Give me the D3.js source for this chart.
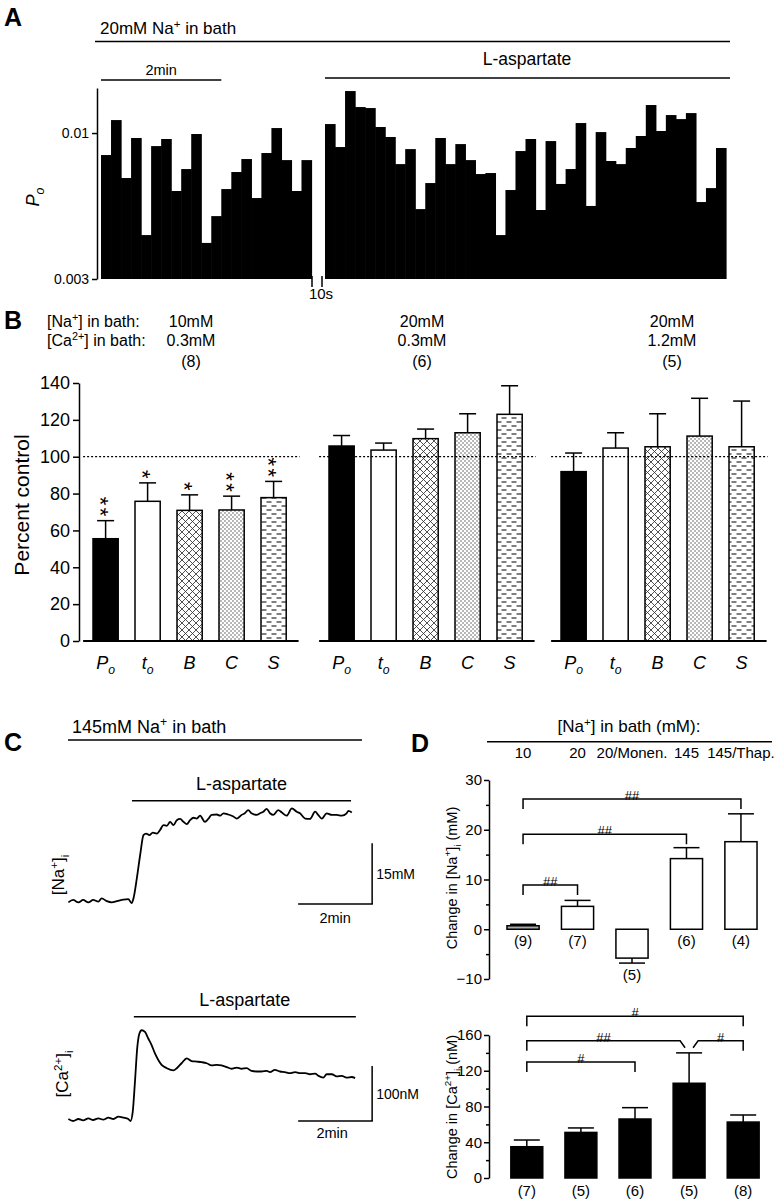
<!DOCTYPE html>
<html><head><meta charset="utf-8">
<script src="https://cdn.jsdelivr.net/npm/d3@7"></script>
<style>body{margin:0;background:#fff}svg{display:block}text{font-family:"Liberation Sans",Arial,Helvetica,sans-serif;fill:#000}</style>
</head><body><svg id="c" width="781" height="1199"></svg>
<script>
// ---------------- DATA ----------------
// Panel A: open probability per 10-s bin
const poControl = [0.00834,0.01113,0.00690,0.00960,0.00431,0.00898,0.00952,0.00620,0.00743,0.00992,0.00404,0.00504,0.00630,0.00725,0.00807,0.00585,0.00848,0.01042,0.00800,0.00620,0.00800];
const poAspartate = [0.01077,0.00891,0.01414,0.01239,0.01229,0.01051,0.00968,0.00774,0.00876,0.00534,0.00662,0.00960,0.00774,0.00913,0.00800,0.00713,0.00719,0.00431,0.00625,0.00862,0.00952,0.00530,0.00936,0.00657,0.00743,0.01086,0.00548,0.01008,0.00794,0.00774,0.00884,0.00976,0.01260,0.01017,0.01160,0.01122,0.01179,0.00566,0.00635,0.00884];
const poTicks = [0.003, 0.01];
const poTickLabels = ["0.003", "0.01"];
const binsPer2min = 12;

// Panel B
const bParams = ["Po", "to", "B", "C", "S"];
const bNaLabels = ["10mM", "20mM", "20mM"];
const bCaLabels = ["0.3mM", "0.3mM", "1.2mM"];
const bNLabels = ["(8)", "(6)", "(5)"];
const bMeans = [[55.5, 75.8, 70.9, 71.1, 77.8], [105.8, 103.6, 109.8, 113.0, 123.0], [91.9, 104.7, 105.4, 111.2, 105.4]];
const bErrTop = [[65.3, 85.8, 79.3, 78.6, 86.6], [111.5, 107.4, 115.0, 123.3, 138.5], [102.0, 113.0, 123.3, 131.7, 130.2]];
const bStars = [["**", "*", "*", "**", "**"], ["", "", "", "", ""], ["", "", "", "", ""]];
const bTicks = [0, 20, 40, 60, 80, 100, 120, 140];
const bReference = 100;

// Panel C: traces (time in min, [Na+]i change in mM, [Ca2+]i change in nM)
const naTime = [0.01,0.14,0.28,0.41,0.55,0.68,0.82,0.91,1.05,1.18,1.32,1.50,1.63,1.72,1.77,1.86,1.95,2.04,2.11,2.20,2.29,2.40,2.49,2.58,2.67,2.76,2.85,2.94,3.03,3.12,3.21,3.30,3.39,3.48,3.57,3.70,3.79,3.88,4.02,4.11,4.20,4.33,4.47,4.56,4.69,4.78,4.87,4.96,5.10,5.19,5.28,5.37,5.46,5.55,5.68,5.78,5.91,6.05,6.18,6.27,6.41,6.54,6.68,6.76,6.86,6.99,7.13,7.26,7.40,7.53,7.58,7.67];
const naValues = [0.4,1.0,0.4,1.0,0.4,1.0,0.6,1.4,0.7,0.4,0.7,1.1,1.2,0.2,1.4,6.3,12.1,17.0,17.4,17.0,17.6,17.4,18.3,19.5,19.3,20.3,19.5,20.7,21.0,20.3,19.7,20.7,21.3,21.1,21.8,20.3,21.0,22.0,22.1,21.8,22.4,22.1,21.6,21.1,22.0,22.4,23.2,22.4,22.0,22.4,22.8,23.5,22.4,22.0,23.2,22.6,21.8,23.6,22.8,22.4,21.1,21.0,22.8,22.0,21.1,22.4,22.0,22.0,21.8,22.4,23.0,22.6];
const caTime = [0.01,0.14,0.28,0.41,0.55,0.68,0.82,0.95,1.09,1.23,1.36,1.50,1.63,1.69,1.75,1.81,1.87,1.93,1.99,2.08,2.17,2.26,2.35,2.44,2.53,2.67,2.85,2.94,3.07,3.21,3.34,3.48,3.61,3.75,3.88,4.02,4.15,4.29,4.42,4.56,4.69,4.83,4.96,5.10,5.23,5.37,5.46,5.59,5.73,5.86,6.00,6.14,6.27,6.41,6.54,6.68,6.77,6.90,6.99,7.13,7.26,7.40,7.53,7.67,7.76];
const caValues = [3.6,0,3.6,1.2,4.8,1.8,4.8,2.4,6.1,3.6,7.9,6.1,3.6,0,17,71.5,132,159,165,162,150,138,123,111,102,96,92,96,105,114,109,108,107,105,101,102,101,98,95,97,95,96,91,90,90,91,89,93,90,89,87,89,87,87,85,86,82,79,85,85,81,82,79,80,78];
const naAspWindow = [1.73, 7.65];
const caAspWindow = [1.78, 7.78];
const cScaleBarStart = 6.22; // min
const naScaleBar = 15;  // mM
const caScaleBar = 100; // nM

// Panel D
const dCategories = ["10", "20", "20/Monen.", "145", "145/Thap."];
const dNaMeans = [0.7, 4.6, -5.8, 14.2, 17.6];
const dNaErr = [1.0, 5.8, -6.8, 16.4, 23.2];
const dNaN = ["(9)", "(7)", "(5)", "(6)", "(4)"];
const dNaTicks = [-10, 0, 10, 20, 30];
const dNaMinor = [-5, 5, 15, 25];
const dCaMeans = [35, 51, 66, 106, 62.6];
const dCaErr = [42.5, 56, 78.7, 140, 70.5];
const dCaN = ["(7)", "(5)", "(6)", "(5)", "(8)"];
const dCaTicks = [0, 40, 80, 120, 160];
const dCaMinor = [20, 60, 100, 140];
const dNaBrackets = [
  {from: 0, to: 4, level: 26.2, label: "##"},
  {from: 0, to: 3, level: 19.1, label: "##"},
  {from: 0, to: 1, level: 8.9, label: "##"}
];
const dCaBrackets = [
  {from: 0, to: 4, level: 181, label: "#", diag: false},
  {from: 0, to: 3, level: 153.6, label: "##", diag: true},
  {from: 4, to: 3, level: 153.6, label: "#", diag: true},
  {from: 0, to: 2, level: 129.8, label: "#", diag: false}
];

// ---------------- HELPERS ----------------
const svg = d3.select("#c");
const FONT = '"Liberation Sans", Arial, Helvetica, sans-serif';

function rich(t, parts) {
  const fs = +t.attr("font-size");
  let cur = 0;
  parts.forEach(([s, m]) => {
    m = m || "";
    const target = m.includes("sup") ? -0.38 * fs : m.includes("sub") ? 0.28 * fs : 0;
    const ts = t.append("tspan").text(s);
    if (target - cur !== 0) ts.attr("dy", target - cur);
    cur = target;
    if (m.includes("sup") || m.includes("sub")) ts.attr("font-size", fs * 0.68);
    if (m.includes("it")) ts.attr("font-style", "italic");
  });
  return t;
}
function label(x, y, parts, size, opts = {}) {
  const t = svg.append("text").attr("x", x).attr("y", y).attr("font-size", size)
    .attr("text-anchor", opts.anchor || "start");
  if (opts.weight) t.attr("font-weight", opts.weight);
  if (opts.rotate) t.attr("transform", `rotate(${opts.rotate},${x},${y})`);
  return rich(t, typeof parts === "string" ? [[parts, ""]] : parts);
}
function hline(x1, x2, y, w = 1.5, dash = null) {
  const l = svg.append("line").attr("x1", x1).attr("x2", x2).attr("y1", y).attr("y2", y)
    .attr("stroke", "#000").attr("stroke-width", w);
  if (dash) l.attr("stroke-dasharray", dash);
  return l;
}
function vline(x, y1, y2, w = 1.5) {
  return svg.append("line").attr("x1", x).attr("x2", x).attr("y1", y1).attr("y2", y2)
    .attr("stroke", "#000").attr("stroke-width", w);
}
function styleAxis(g, size) {
  g.attr("font-family", FONT).attr("font-size", size);
  g.selectAll("path.domain, .tick line").attr("stroke", "#000").attr("stroke-width", 1.5);
  g.selectAll("text").attr("fill", "#000");
}

// patterns
const defs = svg.append("defs");
const hatch = defs.append("pattern").attr("id", "hatch").attr("patternUnits", "userSpaceOnUse").attr("width", 7).attr("height", 7);
hatch.append("rect").attr("width", 7).attr("height", 7).attr("fill", "#fff");
hatch.append("path").attr("d", "M0,0L7,7M7,0L0,7M-1,6L1,8M6,-1L8,1M-1,1L1,-1M6,8L8,6").attr("stroke", "#333").attr("stroke-width", 0.85);
const dots = defs.append("pattern").attr("id", "dots").attr("patternUnits", "userSpaceOnUse").attr("width", 4).attr("height", 4);
dots.append("rect").attr("width", 4).attr("height", 4).attr("fill", "#fff");
dots.append("circle").attr("cx", 1).attr("cy", 1).attr("r", 0.65).attr("fill", "#333");
dots.append("circle").attr("cx", 3).attr("cy", 3).attr("r", 0.65).attr("fill", "#333");
const dash = defs.append("pattern").attr("id", "dash").attr("patternUnits", "userSpaceOnUse").attr("width", 10).attr("height", 8);
dash.append("rect").attr("width", 10).attr("height", 8).attr("fill", "#fff");
dash.append("path").attr("d", "M1.5,2H6.5M6.5,6H11.5M-3.5,6H1.5").attr("stroke", "#000").attr("stroke-width", 1.2);
const bFills = {Po: "#000", to: "#fff", B: "url(#hatch)", C: "url(#dots)", S: "url(#dash)"};
const bXLabels = {Po: [["P", "it"], ["o", "itsub"]], to: [["t", "it"], ["o", "itsub"]], B: [["B", "it"]], C: [["C", "it"]], S: [["S", "it"]]};

// ---------------- PANEL A ----------------
label(4, 26, "A", 25, {weight: "bold"});
label(100, 34, [["20mM Na", ""], ["+", "sup"], [" in bath", ""]], 17);
hline(95, 730, 41.5);
const aY = d3.scaleLog().domain([0.003, 0.0145]).range([279, 88]);
const aX1 = d3.scaleBand().domain(d3.range(poControl.length)).range([101, 311.5]).padding(0);
const aX2 = d3.scaleBand().domain(d3.range(poAspartate.length)).range([325, 726]).padding(0);
[[poControl, aX1], [poAspartate, aX2]].forEach(([data, sx]) => {
  svg.append("g").selectAll("rect").data(data).join("rect")
    .attr("x", (d, i) => sx(i)).attr("width", sx.bandwidth() + 0.6)
    .attr("y", d => aY(d)).attr("height", d => aY(0.003) - aY(d)).attr("fill", "#000");
});
const aAxis = svg.append("g").attr("transform", "translate(97,0)")
  .call(d3.axisLeft(aY).tickValues(poTicks).tickFormat((d, i) => poTickLabels[i]).tickSize(5).tickSizeOuter(0).tickPadding(3));
styleAxis(aAxis, 14);
hline(aX1(0), aX1(binsPer2min), 80);
label((aX1(0) + aX1(binsPer2min)) / 2, 75, "2min", 14.5, {anchor: "middle"});
hline(aX2(0), 730, 78);
label(527, 65, "L-aspartate", 17.5, {anchor: "middle"});
vline(aX1.range()[1] + 0.5, 276, 287);
vline(aX2.range()[0] - 3, 276, 287);
label(321, 299, "10s", 15, {anchor: "middle"});
label(39, 197, [["P", "it"], ["o", "itsub"]], 18, {anchor: "middle", rotate: -90});

// ---------------- PANEL B ----------------
label(4, 329, "B", 25, {weight: "bold"});
label(47, 327, [["[Na", ""], ["+", "sup"], ["] in bath:", ""]], 16);
label(47, 346, [["[Ca", ""], ["2+", "sup"], ["] in bath:", ""]], 16);
const bHdrX = [191, 422, 672];
bHdrX.forEach((x, g) => {
  label(x, 327, bNaLabels[g], 16, {anchor: "middle"});
  label(x, 346, bCaLabels[g], 16, {anchor: "middle"});
  label(x, 367, bNLabels[g], 16, {anchor: "middle"});
});
const bY = d3.scaleLinear().domain([0, 140]).range([641, 383]);
const bAxis = svg.append("g").attr("transform", "translate(79,0)")
  .call(d3.axisLeft(bY).tickValues(bTicks).tickSize(6).tickSizeOuter(0).tickPadding(3));
styleAxis(bAxis, 18);
label(29, 505, "Percent control", 21, {anchor: "middle", rotate: -90});
const bGroupX0 = [84.6, 320.6, 552.6];
const STAR = 22;
bGroupX0.forEach((x0, g) => {
  const sx = d3.scaleBand().domain(bParams).range([x0, x0 + 210]).paddingInner(0.4).paddingOuter(0.2);
  const gg = svg.append("g");
  hline(x0 - 1.5, x0 + 215, bY(bReference), 1.3, "2,2");
  gg.selectAll("rect").data(bParams).join("rect")
    .attr("x", p => sx(p)).attr("width", sx.bandwidth())
    .attr("y", (p, i) => bY(bMeans[g][i])).attr("height", (p, i) => bY(0) - bY(bMeans[g][i]))
    .attr("fill", p => bFills[p]).attr("stroke", "#000").attr("stroke-width", 1.5);
  bParams.forEach((p, i) => {
    const cx = sx(p) + sx.bandwidth() / 2;
    const ey = bY(bErrTop[g][i]);
    vline(cx, bY(bMeans[g][i]), ey);
    hline(cx - 8.5, cx + 8.5, ey);
    const s = bStars[g][i];
    if (s.length) {
      // stars stacked vertically: text runs downward (rotated 90deg), ending just above the cap
      const ax = cx - 0.575 * STAR, ay = ey - 2;
      svg.append("text").attr("x", ax).attr("y", ay).attr("font-size", STAR)
        .attr("text-anchor", "end").attr("letter-spacing", 2.4)
        .attr("transform", `rotate(90,${ax},${ay})`).text(s);
    }
    label(cx, 669, bXLabels[p], 18, {anchor: "middle"});
  });
  hline(x0 - 1.5, x0 + 214, bY(0), 1.8);
});

// ---------------- PANEL C ----------------
label(4, 751, "C", 25, {weight: "bold"});
label(72, 733, [["145mM Na", ""], ["+", "sup"], [" in bath", ""]], 18);
hline(68, 362, 740);
const cX = d3.scaleLinear().domain([0, 2]).range([68, 142]);
const naY = d3.scaleLinear().domain([0, 15]).range([904, 843.25]);
const caY = d3.scaleLinear().domain([0, 100]).range([1121, 1066]);
const trace = (ys) => d3.line().x(d => cX(d[0])).y(d => ys(d[1])).curve(d3.curveMonotoneX);
svg.append("path").datum(naTime.map((t, i) => [t, naValues[i]])).attr("d", trace(naY))
  .attr("fill", "none").attr("stroke", "#000").attr("stroke-width", 1.8).attr("stroke-linejoin", "round");
svg.append("path").datum(caTime.map((t, i) => [t, caValues[i]])).attr("d", trace(caY))
  .attr("fill", "none").attr("stroke", "#000").attr("stroke-width", 1.8).attr("stroke-linejoin", "round");
hline(cX(naAspWindow[0]), cX(naAspWindow[1]), 800.7);
label((cX(naAspWindow[0]) + cX(naAspWindow[1])) / 2, 790, "L-aspartate", 18, {anchor: "middle"});
hline(cX(caAspWindow[0]), cX(caAspWindow[1]), 1016.7);
label((cX(caAspWindow[0]) + cX(caAspWindow[1])) / 2, 1006, "L-aspartate", 18, {anchor: "middle"});
const sbX1 = cX(cScaleBarStart), sbX2 = cX(cScaleBarStart + 2);
hline(sbX1, sbX2 + 0.75, naY(0));
vline(sbX2, naY(0), naY(naScaleBar));
label(sbX2 + 4, naY(naScaleBar / 2) + 5, "15mM", 14);
label((sbX1 + sbX2) / 2, naY(0) + 19, "2min", 14.5, {anchor: "middle"});
hline(sbX1, sbX2 + 0.75, caY(0));
vline(sbX2, caY(0), caY(caScaleBar));
label(sbX2 + 4, caY(caScaleBar / 2) + 5, "100nM", 14);
label((sbX1 + sbX2) / 2 - 3, caY(0) + 17, "2min", 14.5, {anchor: "middle"});
label(64, 875, [["[Na", ""], ["+", "sup"], ["]", ""], ["i", "sub"]], 17, {anchor: "middle", rotate: -90});
label(68, 1074, [["[Ca", ""], ["2+", "sup"], ["]", ""], ["i", "sub"]], 17, {anchor: "middle", rotate: -90});

// ---------------- PANEL D ----------------
label(411, 752, "D", 25, {weight: "bold"});
label(629, 732, [["[Na", ""], ["+", "sup"], ["] in bath (mM):", ""]], 17, {anchor: "middle"});
hline(487, 772, 741.7);
const dX = d3.scaleBand().domain(dCategories).range([489, 775]).paddingInner(0.41).paddingOuter(0.33);
const dX2 = d3.scaleBand().domain(dCategories).range([493, 777]).paddingInner(0.41).paddingOuter(0.33);
dCategories.forEach(c => label(dX(c) + dX.bandwidth() / 2, 758, c, 15, {anchor: "middle"}));

function dChart(sx, sy, means, errs, ns, ticks, minor, fills, brackets, nOffset) {
  const ax = svg.append("g").attr("transform", "translate(489,0)")
    .call(d3.axisLeft(sy).tickValues(ticks).tickSize(5).tickSizeOuter(0).tickPadding(2));
  styleAxis(ax, 15);
  const mi = svg.append("g").attr("transform", "translate(489,0)")
    .call(d3.axisLeft(sy).tickValues(minor).tickSize(3).tickFormat(""));
  mi.select("path.domain").remove();
  mi.selectAll(".tick line").attr("stroke", "#000").attr("stroke-width", 1.5);
  const bw = sx.bandwidth();
  svg.append("g").selectAll("rect").data(dCategories).join("rect")
    .attr("x", c => sx(c)).attr("width", bw)
    .attr("y", (c, i) => sy(Math.max(0, means[i])))
    .attr("height", (c, i) => Math.abs(sy(means[i]) - sy(0)))
    .attr("fill", (c, i) => fills[i]).attr("stroke", "#000").attr("stroke-width", 1.5);
  dCategories.forEach((c, i) => {
    const cx = sx(c) + bw / 2;
    vline(cx, sy(means[i]), sy(errs[i]));
    hline(cx - 13, cx + 13, sy(errs[i]));
    label(cx, sy(Math.min(0, errs[i])) + nOffset, ns[i], 15, {anchor: "middle"});
  });
  brackets.forEach(b => {
    const c1 = sx(dCategories[b.from]) + bw / 2, c2 = sx(dCategories[b.to]) + bw / 2;
    const y = sy(b.level);
    let d, xEnd;
    if (b.diag) {
      const s = Math.sign(c1 - c2);
      xEnd = c2 + s * 9;
      d = `M${c1},${y + 10}V${y}H${xEnd}L${c2 + s * 4},${y + 7}`;
    } else {
      xEnd = c2;
      d = `M${c1},${y + 10}V${y}H${c2}V${y + 10}`;
    }
    svg.append("path").attr("d", d).attr("fill", "none").attr("stroke", "#000").attr("stroke-width", 1.5);
    label((c1 + xEnd) / 2, y + 1, b.label, 13, {anchor: "middle"});
  });
}
const dNaY = d3.scaleLinear().domain([-10, 30]).range([979, 780]);
const dCaY = d3.scaleLinear().domain([0, 160]).range([1178, 1035]);
dChart(dX, dNaY, dNaMeans, dNaErr, dNaN, dNaTicks, dNaMinor, ["#aaa", "#fff", "#fff", "#fff", "#fff"], dNaBrackets, 17);
dChart(dX2, dCaY, dCaMeans, dCaErr, dCaN, dCaTicks, dCaMinor, ["#000", "#000", "#000", "#000", "#000"], dCaBrackets, 18);
label(457, 878, [["Change in [Na", ""], ["+", "sup"], ["]", ""], ["i", "sub"], [" (mM)", ""]], 14.5, {anchor: "middle", rotate: -90});
label(457, 1107, [["Change in [Ca", ""], ["2+", "sup"], ["]", ""], ["i", "sub"], [" (nM)", ""]], 14.5, {anchor: "middle", rotate: -90});
</script></body></html>
